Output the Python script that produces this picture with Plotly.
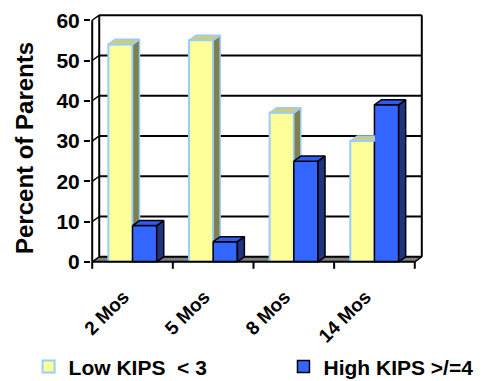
import plotly.graph_objects as go

# ---- data ----
categories = ["2 Mos", "5 Mos", "8 Mos", "14 Mos"]
low_kips = [54, 55, 37, 30]
high_kips = [9, 5, 25, 39]
y_ticks = [0, 10, 20, 30, 40, 50, 60]
series_names = ["Low KIPS  < 3", "High KIPS >/=4"]
y_title = "Percent of Parents"

# ---- style constants ----
FONT = "Liberation Sans, Arial, sans-serif"
BAR_W = 0.3
DX = 0.087   # depth offset in x units
DY = 1.25    # depth offset in y units
LOW_FRONT, LOW_SIDE, LOW_TOP, LOW_EDGE = "#FFFF99", "#80804D", "#CCCC80", "#99CCFF"
HI_FRONT, HI_SIDE, HI_TOP, HI_EDGE = "#3366FF", "#1F3380", "#2F5CF0", "#000000"

xs = list(range(len(categories)))
ymax = y_ticks[-1]
x_lo, x_hi = -0.5, len(categories) - 0.5
xr = [x_lo - 0.015, x_hi + DX + 0.015]
yr = [-0.3, ymax + DY + 0.3]

fig = go.Figure()

fig.add_trace(go.Bar(
    x=xs, y=low_kips, width=BAR_W, offset=-BAR_W, name=series_names[0],
    marker=dict(color=LOW_FRONT, line=dict(color=LOW_EDGE, width=2)),
    legend="legend", hoverinfo="skip"))
fig.add_trace(go.Bar(
    x=xs, y=high_kips, width=BAR_W, offset=0, name=series_names[1],
    marker=dict(color=HI_FRONT, line=dict(color=HI_EDGE, width=1.5)),
    legend="legend2", hoverinfo="skip"))


def poly_trace(px, py, fill, edge, w):
    return go.Scatter(x=px, y=py, mode="lines", fill="toself", fillcolor=fill,
                      line=dict(color=edge, width=w), showlegend=False,
                      hoverinfo="skip")


# low bar side + top faces (clipped where the neighbouring high bar hides them)
lsx, lsy, ltx, lty = [], [], [], []
for x, vl, vh in zip(xs, low_kips, high_kips):
    x0, x1 = x - BAR_W, x
    if vl > vh:
        lsx += [x1, x1 + DX, x1 + DX, x1, x1, None]
        lsy += [vh, vh + DY, vl + DY, vl, vh, None]
    if vh >= vl + DY:
        ltx += [x0, x0 + DX, x1, x1, x0, None]
    else:
        ltx += [x0, x0 + DX, x1 + DX, x1, x0, None]
    lty += [vl, vl + DY, vl + DY, vl, vl, None]
fig.add_trace(poly_trace(lsx, lsy, LOW_SIDE, LOW_EDGE, 1.5))
fig.add_trace(poly_trace(ltx, lty, LOW_TOP, LOW_EDGE, 1.5))

# high bar side + top faces
hsx, hsy, htx, hty = [], [], [], []
for x, vh in zip(xs, high_kips):
    x0, x1 = x, x + BAR_W
    hsx += [x1, x1 + DX, x1 + DX, x1, x1, None]
    hsy += [0, DY, vh + DY, vh, 0, None]
    htx += [x0, x0 + DX, x1 + DX, x1, x0, None]
    hty += [vh, vh + DY, vh + DY, vh, vh, None]
fig.add_trace(poly_trace(hsx, hsy, HI_SIDE, HI_EDGE, 1.5))
fig.add_trace(poly_trace(htx, hty, HI_TOP, HI_EDGE, 1.5))

shapes = []
# floor
shapes.append(dict(type="path", xref="x", yref="y", layer="below",
                   path=f"M{x_lo},0 L{x_hi},0 L{x_hi + DX},{DY} L{x_lo + DX},{DY} Z",
                   fillcolor="#808080", line=dict(width=0)))
# back wall gridlines
for v in y_ticks:
    shapes.append(dict(type="line", xref="x", yref="y", layer="below",
                       x0=x_lo + DX, x1=x_hi + DX, y0=v + DY, y1=v + DY,
                       line=dict(color="black", width=2)))
    # side wall diagonals
    shapes.append(dict(type="line", xref="x", yref="y", layer="below",
                       x0=x_lo, x1=x_lo + DX, y0=v, y1=v + DY,
                       line=dict(color="black", width=1.5)))
# back wall verticals
for xv in (x_lo + DX, x_hi + DX):
    shapes.append(dict(type="line", xref="x", yref="y", layer="below",
                       x0=xv, x1=xv, y0=DY, y1=ymax + DY,
                       line=dict(color="black", width=2)))
# front y axis line
shapes.append(dict(type="line", xref="x", yref="y", layer="above",
                   x0=x_lo, x1=x_lo, y0=0, y1=ymax,
                   line=dict(color="black", width=2)))
# floor front edge + right edge
shapes.append(dict(type="line", xref="x", yref="y", layer="above",
                   x0=x_lo, x1=x_hi, y0=0, y1=0,
                   line=dict(color="black", width=2)))
shapes.append(dict(type="line", xref="x", yref="y", layer="above",
                   x0=x_hi, x1=x_hi + DX, y0=0, y1=DY,
                   line=dict(color="black", width=1.5)))
# category boundary ticks
M_L, M_T, PLOT_W, PLOT_H = 83, 6, 332, 249
y0p = (0 - yr[0]) / (yr[1] - yr[0])
for k in range(len(categories) + 1):
    shapes.append(dict(type="line", xref="x", yref="paper",
                       x0=x_lo + k, x1=x_lo + k, y0=y0p, y1=y0p - 7 / PLOT_H,
                       line=dict(color="black", width=2)))

legend_font = dict(family=FONT, size=21, color="black", weight="bold")
fig.update_layout(
    width=485, height=381,
    margin=dict(l=M_L, r=485 - M_L - PLOT_W, t=M_T, b=381 - M_T - PLOT_H,
                autoexpand=False),
    paper_bgcolor="white", plot_bgcolor="white",
    barmode="overlay",
    shapes=shapes,
    showlegend=True,
    legend=dict(orientation="h", xref="container", yref="container",
                x=0.0424, xanchor="left", y=0.058, yanchor="middle",
                font=legend_font, bgcolor="rgba(0,0,0,0)", itemclick=False),
    legend2=dict(orientation="h", xref="container", yref="container",
                 x=0.568, xanchor="left", y=0.058, yanchor="middle",
                 font=legend_font, bgcolor="rgba(0,0,0,0)", itemclick=False),
    annotations=[dict(text=y_title, textangle=-90, xref="paper", yref="paper",
                      x=(16 - M_L) / PLOT_W, y=1 - (140 - M_T) / PLOT_H,
                      xanchor="center", yanchor="middle", showarrow=False,
                      font=dict(family=FONT, size=24, color="black",
                                weight="bold"))],
    xaxis=dict(range=xr, tickvals=xs, ticktext=categories, tickangle=-45,
               showgrid=False, zeroline=False, showline=False, ticks="",
               automargin=False,
               ticklabelstandoff=18, ticklabelshift=-9,
               tickfont=dict(family=FONT, size=19, color="black", weight="bold")),
    yaxis=dict(range=yr, tickvals=y_ticks, showgrid=False, zeroline=False,
               showline=False, ticks="outside", ticklen=6, tickwidth=2,
               tickcolor="black", automargin=False,
               tickfont=dict(family=FONT, size=21, color="black", weight="bold")),
)

fig.write_html("out.html")
